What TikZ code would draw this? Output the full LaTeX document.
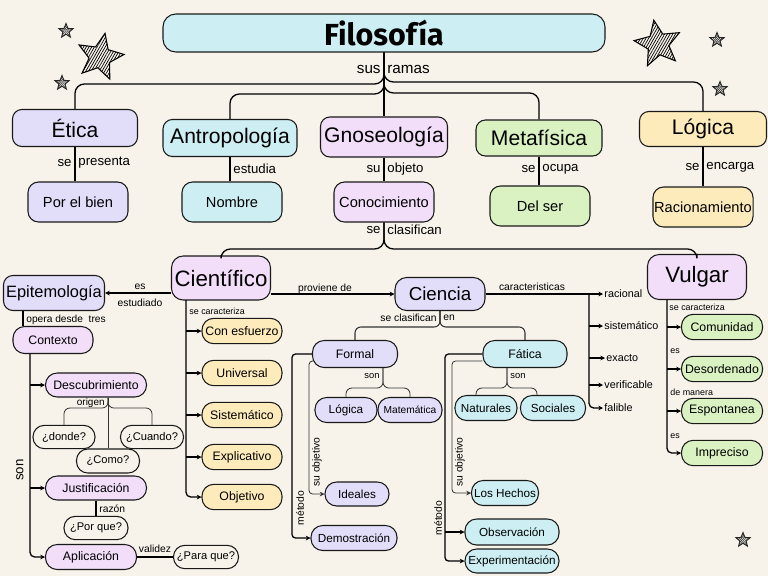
\documentclass[tikz,border=0pt]{standalone}
\usepackage{fontspec}
\setmainfont{Liberation Sans}
\newfontfamily\titlefont{Fira Sans}
\usetikzlibrary{arrows.meta,shapes.geometric,patterns.meta}

\definecolor{paper}{HTML}{F7F3EB}
\definecolor{celeste}{HTML}{CDEFF3}
\definecolor{lila}{HTML}{E2DEFA}
\definecolor{rosa}{HTML}{F2DEF9}
\definecolor{verde}{HTML}{DAF2C2}
\definecolor{amarillo}{HTML}{FDEBBB}

\tikzset{
  caja/.style={draw=black!90, line width=0.9pt, rounded corners=8pt, align=center, inner sep=1pt},
  grande/.style={caja, font=\fontsize{18}{20}\selectfont},
  media/.style={caja, rounded corners=9pt, minimum width=3cm, minimum height=1.2cm, font=\fontsize{12.5}{14}\selectfont},
  chica/.style={caja, rounded corners=3.5mm, minimum height=0.76cm, font=\fontsize{10.5}{12}\selectfont},
  pregunta/.style={caja, fill=paper, rounded corners=3.4mm, minimum height=0.7cm, font=\fontsize{9.5}{11}\selectfont},
  etq/.style={inner sep=1pt, font=\fontsize{11.3}{13}\selectfont},
  mini/.style={inner sep=1pt, font=\fontsize{8.8}{10}\selectfont},
  diminuta/.style={inner sep=1pt, font=\fontsize{7.6}{9}\selectfont},
  linea/.style={line width=1.1pt, rounded corners=8pt},
  fina/.style={line width=0.7pt, draw=black!80, rounded corners=5pt},
  arr/.style={-{Stealth[length=4pt,width=4pt]}},
  estrella/.style={star, star points=5, star point ratio=2.3, draw=black!85, line width=0.8pt,
    pattern={Lines[angle=50,distance=1.3pt,line width=0.6pt]}, pattern color=black!80,
    minimum size=0.45cm, inner sep=0pt},
  estrellaG/.style={star, star points=5, star point ratio=2.2, draw=black, line width=0.9pt,
    pattern={Lines[angle=60,distance=2pt,line width=0.6pt]}, minimum size=1.45cm, inner sep=0pt},
}

\begin{document}
\begin{tikzpicture}[x=0.03cm, y=-0.03cm]
  \fill[paper] (0,0) rectangle (768,576);
  \useasboundingbox (0,0) rectangle (768,576);

  \node[estrellaG, rotate=-12] (estrellaA) at (100,57) {};
  \node[estrellaG, rotate=10] (estrellaB) at (658,44) {};
  \node[estrella] (estrella1) at (66,31) {};
  \node[estrella] (estrella2) at (62,83) {};
  \node[estrella] (estrella3) at (717,40) {};
  \node[estrella] (estrella4) at (720,89) {};
  \node[estrella] (estrella5) at (743,540) {};

  \node[caja, fill=celeste, minimum width=13.26cm, minimum height=1.14cm, rounded corners=11pt,
        font=\titlefont\bfseries\fontsize{26}{28}\selectfont] (filo) at (384,33) {Filosofía};

  \node[grande, fill=lila, minimum width=3.75cm, minimum height=1.11cm] (etica) at (75,128) {Ética};
  \node[grande, fill=celeste, minimum width=4.02cm, minimum height=1.11cm] (antro) at (230,138) {Antropología};
  \node[grande, fill=rosa, minimum width=3.81cm, minimum height=1.2cm] (gnoseo) at (384,137) {Gnoseología};
  \node[grande, fill=verde, minimum width=3.78cm, minimum height=1.08cm] (meta) at (539,138) {Metafísica};
  \node[grande, fill=amarillo, minimum width=3.81cm, minimum height=1.05cm] (logica) at (703,129) {Lógica};

  \draw[linea] (filo.south) -- (384,84) -- (etica.north |- 0,84) -- (etica.north);
  \draw[linea] (filo.south) -- (384,94) -- (antro.north |- 0,94) -- (antro.north);
  \draw[linea] (filo.south) -- (gnoseo.north);
  \draw[linea] (filo.south) -- (384,93) -- (meta.north |- 0,93) -- (meta.north);
  \draw[linea] (filo.south) -- (384,82) -- (logica.north |- 0,82) -- (logica.north);
  \node[etq, anchor=east, font=\fontsize{13}{15}\selectfont] (sus) at (382,69) {sus};
  \node[etq, anchor=west, font=\fontsize{13}{15}\selectfont] (ramas) at (386,69) {ramas};

  \node[media, fill=lila] (bien) at (78,202) {Por el bien};
  \node[media, fill=celeste] (nombre) at (232,202) {Nombre};
  \node[media, fill=rosa] (conoc) at (384,202) {Conocimiento};
  \node[media, fill=verde] (delser) at (540,206) {Del ser};
  \node[media, fill=amarillo] (racion) at (703,207) {Racionamiento};

  \draw[linea] (etica.south) -- (etica.south |- bien.north);
  \draw[linea] (antro.south) -- (antro.south |- nombre.north);
  \draw[linea] (gnoseo.south) -- (conoc.north);
  \draw[linea] (meta.south) -- (meta.south |- delser.north);
  \draw[linea] (logica.south) -- (racion.north);
  \node[etq, anchor=east] (se1) at (73,163) {se};
  \node[etq, anchor=west] (presenta) at (77,163) {presenta};
  \node[etq, anchor=west] (estudia) at (232,169) {estudia};
  \node[etq, anchor=east] (su) at (382,169) {su};
  \node[etq, anchor=west] (objeto) at (386,169) {objeto};
  \node[etq, anchor=east] (se2) at (537,169) {se};
  \node[etq, anchor=west] (ocupa) at (541,169) {ocupa};
  \node[etq, anchor=east] (se3) at (701,167) {se};
  \node[etq, anchor=west] (encarga) at (705,167) {encarga};

  \node[caja, fill=rosa, minimum width=2.97cm, minimum height=1.32cm, rounded corners=10pt,
        font=\fontsize{19}{21}\selectfont] (cient) at (221,278) {Científico};
  \node[caja, fill=rosa, minimum width=2.97cm, minimum height=1.35cm, rounded corners=10pt,
        font=\fontsize{19}{21}\selectfont] (vulgar) at (697,277) {Vulgar};
  \draw[linea] (conoc.south) -- (384,249) -- (cient.north |- 0,249) -- (cient.north);
  \draw[linea] (conoc.south) -- (384,249) -- (vulgar.north |- 0,249) -- (vulgar.north);
  \node[etq, anchor=east] (se4) at (382,230) {se};
  \node[etq, anchor=west] (clasifican) at (386,230) {clasifican};

  \node[caja, fill=lila, minimum width=3.03cm, minimum height=1.05cm,
        font=\fontsize{14}{16}\selectfont] (epist) at (54,293) {Epitemología};
  \node[caja, fill=lila, minimum width=2.7cm, minimum height=0.99cm, rounded corners=10pt,
        font=\fontsize{16}{18}\selectfont] (ciencia) at (440,294) {Ciencia};
  \draw[linea, arr] (cient.west |- epist.east) -- (epist.east);
  \node[mini] (es1) at (140,287) {es};
  \node[mini] (estudiado) at (140,303) {estudiado};
  \draw[linea, arr] (cient.east |- ciencia.west) -- (ciencia.west);
  \node[mini] (proviene) at (325,289) {proviene de};

  \node[mini, anchor=west, font=\fontsize{9.2}{11}\selectfont] (racional) at (603,294) {racional};
  \node[mini, anchor=west, font=\fontsize{9.2}{11}\selectfont] (sistem) at (603,326) {sistemático};
  \node[mini, anchor=west, font=\fontsize{9.2}{11}\selectfont] (exacto) at (605,358) {exacto};
  \node[mini, anchor=west, font=\fontsize{9.2}{11}\selectfont] (verif) at (603,385) {verificable};
  \node[mini, anchor=west, font=\fontsize{9.2}{11}\selectfont] (falible) at (603,408) {falible};
  \coordinate (cbarra) at (589,294);
  \draw[linea, arr] (ciencia.east) -- (racional.west);
  \node[mini] (caract) at (532,287) {caracteristicas};
  \draw[linea, arr, rounded corners=4pt] (cbarra) |- (falible.west);
  \foreach \n in {sistem,exacto,verif}
    \draw[linea, arr] (cbarra |- \n.west) -- (\n.west);

  \node[chica, fill=verde, minimum width=2.43cm] (comun) at (722,327) {Comunidad};
  \node[chica, fill=verde, minimum width=2.43cm] (desord) at (722,369) {Desordenado};
  \node[chica, fill=verde, minimum width=2.43cm] (espont) at (722,411) {Espontanea};
  \node[chica, fill=verde, minimum width=2.43cm] (imprec) at (722,453) {Impreciso};
  \coordinate (vbarra) at (667,300);
  \draw[linea, arr, rounded corners=4pt] (vbarra) |- (imprec.west);
  \foreach \n in {comun,desord,espont}
    \draw[linea, arr] (vbarra |- \n.west) -- (\n.west);
  \node[diminuta, anchor=west] (secar2) at (668,307) {se caracteriza};
  \node[diminuta, anchor=west] (es2) at (669,351) {es};
  \node[diminuta, anchor=west] (manera) at (669,392) {de manera};
  \node[diminuta, anchor=west] (es3) at (669,436) {es};

  \node[chica, fill=amarillo, minimum width=2.4cm] (esf) at (242,331) {Con esfuerzo};
  \node[chica, fill=amarillo, minimum width=2.4cm] (univ) at (242,373) {Universal};
  \node[chica, fill=amarillo, minimum width=2.4cm] (sistem2) at (242,415) {Sistemático};
  \node[chica, fill=amarillo, minimum width=2.4cm] (explic) at (242,457) {Explicativo};
  \node[chica, fill=amarillo, minimum width=2.4cm] (objet) at (242,497) {Objetivo};
  \coordinate (cbarra2) at (186,300);
  \draw[linea, arr, rounded corners=4pt] (cbarra2) |- (objet.west);
  \foreach \n in {esf,univ,sistem2,explic}
    \draw[linea, arr] (cbarra2 |- \n.west) -- (\n.west);
  \node[diminuta, anchor=west] (secar1) at (188,311) {se caracteriza};

  \node[chica, fill=rosa, minimum width=2.4cm, minimum height=0.81cm] (contexto) at (53,340) {Contexto};
  \draw[linea] (epist.south -| 23,0) -- (contexto.north -| 23,0);
  \node[mini, anchor=west, font=\fontsize{8.7}{10}\selectfont] (opera) at (25,320) {opera desde\ \ tres};

  \node[chica, fill=rosa, minimum width=3.03cm, minimum height=0.72cm] (desc) at (96,385) {Descubrimiento};
  \node[chica, fill=rosa, minimum width=3.03cm, minimum height=0.72cm] (just) at (96,488) {Justificación};
  \node[chica, fill=rosa, minimum width=2.73cm, minimum height=0.75cm] (aplic) at (91,557) {Aplicación};
  \coordinate (xbarra) at (30,354);
  \draw[linea, arr, rounded corners=4pt] (xbarra) |- (aplic.west);
  \foreach \n in {desc,just}
    \draw[linea, arr] (xbarra |- \n.west) -- (\n.west);
  \node[etq, rotate=90] (son1) at (20,470) {son};

  \node[pregunta, minimum width=1.86cm] (donde) at (64,437) {¿donde?};
  \node[pregunta, minimum width=1.89cm] (cuando) at (152,437) {¿Cuando?};
  \node[pregunta, minimum width=1.89cm, minimum height=0.72cm] (como) at (108,461) {¿Como?};
  \draw[fina] (como.north |- desc.south) -- (como.north);
  \draw[fina] (como.north |- desc.south) -- (108,408) -- (donde.north |- 0,408) -- (donde.north);
  \draw[fina] (como.north |- desc.south) -- (108,408) -- (cuando.north |- 0,408) -- (cuando.north);
  \node[diminuta, anchor=east, font=\fontsize{8.5}{10}\selectfont] (origen) at (106,403) {origen};

  \node[pregunta, minimum width=1.92cm] (porque) at (96,528) {¿Por que?};
  \draw[linea] (just.south) -- (porque.north);
  \node[mini, anchor=west] (razon) at (98,509) {razón};
  \node[pregunta, minimum width=1.95cm] (paraque) at (206,557) {¿Para que?};
  \draw[linea] (aplic.east) -- (paraque.west);
  \node[mini] (validez) at (155,549) {validez};

  \node[chica, fill=lila, minimum width=2.55cm, minimum height=0.81cm] (formal) at (355,354) {Formal};
  \node[chica, fill=celeste, minimum width=2.52cm, minimum height=0.81cm] (fatica) at (525,354) {Fática};
  \draw[fina, line width=0.9pt] (ciencia.south) -- (440,327) -- (formal.north |- 0,327) -- (formal.north);
  \draw[fina, line width=0.9pt] (ciencia.south) -- (440,327) -- (fatica.north |- 0,327) -- (fatica.north);
  \node[mini, anchor=east] (secla) at (438,318) {se clasifican};
  \node[mini, anchor=west] (en) at (442,318) {en};

  \node[chica, fill=lila, minimum width=1.86cm, minimum height=0.75cm, font=\fontsize{10}{12}\selectfont] (logica2) at (346,410) {Lógica};
  \node[chica, fill=lila, minimum width=1.92cm, minimum height=0.75cm, font=\fontsize{8.7}{10}\selectfont] (mate) at (410,410) {Matemática};
  \coordinate (fson) at (383,368);
  \draw[fina] (fson) -- (383,388) -- (logica2.north |- 0,388) -- (logica2.north);
  \draw[fina] (fson) -- (383,388) -- (mate.north |- 0,388) -- (mate.north);
  \node[diminuta, anchor=east, font=\fontsize{8}{9}\selectfont] (son2) at (381,376) {son};

  \node[chica, fill=celeste, minimum width=1.86cm, minimum height=0.75cm, font=\fontsize{10}{12}\selectfont] (nat) at (486,408) {Naturales};
  \node[chica, fill=celeste, minimum width=1.95cm, minimum height=0.75cm, font=\fontsize{10}{12}\selectfont] (soc) at (553,408) {Sociales};
  \coordinate (tson) at (507,368);
  \draw[fina] (tson) -- (507,388) -- (476,388) -- (nat.north -| 476,0);
  \draw[fina] (tson) -- (507,388) -- (537,388) -- (soc.north -| 537,0);
  \node[diminuta, anchor=west, font=\fontsize{8}{9}\selectfont] (son3) at (509,376) {son};

  \node[chica, fill=lila, minimum width=1.92cm, minimum height=0.72cm, font=\fontsize{10}{12}\selectfont] (ideales) at (357,494) {Ideales};
  \node[chica, fill=lila, minimum width=2.58cm, minimum height=0.75cm, font=\fontsize{10}{12}\selectfont] (demos) at (354,538) {Demostración};
  \draw[linea, arr, rounded corners=3pt] (formal.west) -- (292,354) |- (demos.west);
  \draw[fina, arr, rounded corners=3pt] (formal.west |- 0,361) -- (309,361) |- (ideales.west);
  \node[mini, rotate=90] (metodo1) at (300,508) {método};
  \node[mini, rotate=90] (suobj1) at (317,462) {su objetivo};

  \node[chica, fill=celeste, minimum width=2.01cm, minimum height=0.75cm, font=\fontsize{10}{12}\selectfont] (hechos) at (505,493) {Los Hechos};
  \node[chica, fill=celeste, minimum width=2.82cm, minimum height=0.78cm, font=\fontsize{10}{12}\selectfont] (obs) at (512,532) {Observación};
  \node[chica, fill=celeste, minimum width=2.82cm, minimum height=0.72cm, font=\fontsize{10}{12}\selectfont] (exper) at (512,561) {Experimentación};
  \coordinate (fbarra) at (445,354);
  \draw[linea, arr, rounded corners=3pt] (fatica.west) -- (fbarra) |- (exper.west);
  \draw[linea, arr] (fbarra |- obs.west) -- (obs.west);
  \draw[fina, arr, rounded corners=3pt] (fatica.west |- 0,361) -- (452,361) |- (hechos.west);
  \node[mini, rotate=90] (metodo2) at (438,518) {método};
  \node[mini, rotate=90] (suobj2) at (460,462) {su objetivo};
\end{tikzpicture}
\end{document}
